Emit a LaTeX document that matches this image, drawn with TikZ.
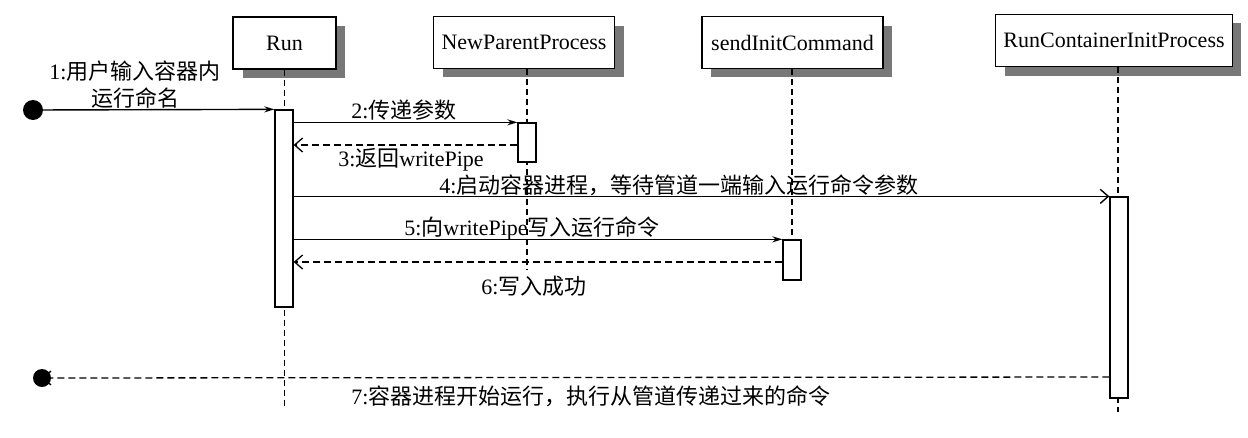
\documentclass[tikz,border=0pt]{standalone}
\usepackage{fontspec}
\setmainfont{Liberation Serif}
\newfontfamily\cjk{Noto Sans CJK SC}
\usetikzlibrary{arrows.meta}
\definecolor{shadowgray}{RGB}{120,120,120}
\begin{document}
\begin{tikzpicture}[x=1pt,y=-1pt,
  every node/.style={font=\fontsize{22}{27}\selectfont, inner sep=0pt},
  objbox/.style={draw, line width=1.4pt, fill=white, minimum height=52pt},
  actbar/.style={draw, line width=1.3pt, fill=white, minimum width=18pt},
  lifeline/.style={line width=1.2pt, dash pattern=on 6pt off 4pt},
  msg/.style={line width=1.4pt, -{Stealth[length=10pt,width=6pt]}},
  msgopen/.style={line width=1.4pt, -{Straight Barb[length=8pt,width=14pt]}},
  ret/.style={line width=1.3pt, dash pattern=on 7pt off 4pt, -{Straight Barb[length=8pt,width=14pt]}},
  lbl/.style={align=center},
  boxshadow/.style={draw=none, fill=shadowgray}
]
\useasboundingbox (0,0) rectangle (1248,437);
% shadows
\path[boxshadow] (243,26) rectangle (345,78);
\path[boxshadow] (442.5,26) rectangle (623.5,77);
\path[boxshadow] (711,26) rectangle (892,77);
\path[boxshadow] (1004.5,23) rectangle (1241,76);
% object boxes
\node[objbox, minimum width=103pt] (run) at (284.5,43) {Run};
\node[objbox, minimum width=181pt] (npp) at (524,42.5) {NewParentProcess};
\node[objbox, minimum width=181pt] (sic) at (792.5,42.5) {sendInitCommand};
\node[objbox, minimum width=237pt] (rcip) at (1114,40.5) {RunContainerInitProcess};
% lifeline ends
\coordinate (runend) at (284.5,408);
\coordinate (nppend) at (527,270);
\coordinate (sicend) at (792,280);
\coordinate (rcipend) at (1118,412);
\draw[lifeline] (run.south -| runend) -- (runend);
\draw[lifeline] (npp.south -| nppend) -- (nppend);
\draw[lifeline] (sic.south -| sicend) -- (sicend);
\draw[lifeline] (rcip.south -| rcipend) -- (rcipend);
% activation bars
\node[actbar, minimum height=197pt] (runbar) at (284,208.5) {};
\node[actbar, minimum height=39pt] (nppbar) at (527,142.5) {};
\node[actbar, minimum height=40pt] (sicbar) at (792,260) {};
\node[actbar, minimum height=201pt] (rcipbar) at (1119,297.5) {};
% start and end points
\fill (33,110) circle (10pt);
\coordinate (start) at (33,110);
\fill (42,378) circle (9pt);
\coordinate (finish) at (42,378);
% messages
\draw[msg] (start) -- (runbar.north west);
\node[lbl] (l1) at (135,85) {1:{\cjk 用户输入容器内}\\{\cjk 运行命名}};
\draw[msg] (runbar.east |- nppbar.north) -- (nppbar.north west);
\node[lbl] (l2) at (404,110) {2:{\cjk 传递参数}};
\coordinate (r3) at (nppbar.west |- 0,145);
\draw[ret] (r3) -- (runbar.east |- r3);
\node[lbl] (l3) at (411,160) {3:{\cjk 返回}writePipe};
\draw[msgopen] (runbar.east |- rcipbar.north) -- (rcipbar.north west);
\node[lbl] (l4) at (679,185) {4:{\cjk 启动容器进程，等待管道一端输入运行命令参数}};
\draw[msg] (runbar.east |- sicbar.north) -- (sicbar.north west);
\node[lbl] (l5) at (532,228) {5:{\cjk 向}writePipe{\cjk 写入运行命令}};
\coordinate (r6) at (sicbar.west |- 0,262);
\draw[ret] (r6) -- (runbar.east |- r6);
\node[lbl] (l6) at (534,286) {6:{\cjk 写入成功}};
\coordinate (r7) at (rcipbar.west |- 0,377);
\draw[ret] (r7) -- (finish);
\node[lbl] (l7) at (591,396) {7:{\cjk 容器进程开始运行，执行从管道传递过来的命令}};
\end{tikzpicture}
\end{document}
